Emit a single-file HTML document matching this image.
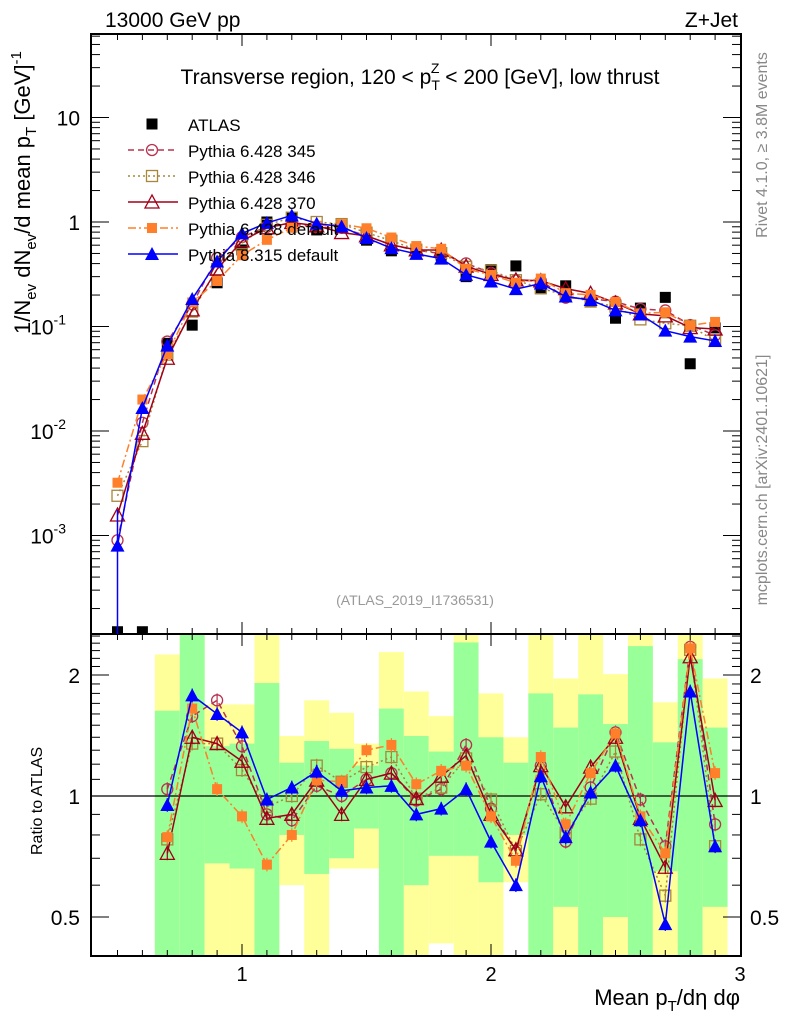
<!DOCTYPE html>
<html><head><meta charset="utf-8"><style>
html,body{margin:0;padding:0;background:#fff;}
svg{display:block;font-family:"Liberation Sans",sans-serif;}
</style></head><body>
<svg id="chart" width="786" height="1024" viewBox="0 0 786 1024" xmlns="http://www.w3.org/2000/svg">
<text x="105" y="27" font-size="21">13000 GeV pp</text>
<text x="738" y="27" font-size="21" text-anchor="end">Z+Jet</text>
<text x="420" y="84" font-size="21" text-anchor="middle">Transverse region, 120 &lt; p<tspan font-size="14" dy="6">T</tspan><tspan font-size="14" dx="-9" dy="-17">Z</tspan><tspan dy="11"> &lt; 200 [GeV], low thrust</tspan></text>
<text transform="translate(767,145) rotate(-90)" font-size="16" fill="#888" text-anchor="middle">Rivet 4.1.0, ≥ 3.8M events</text>
<text transform="translate(767,480) rotate(-90)" font-size="16" fill="#888" text-anchor="middle">mcplots.cern.ch [arXiv:2401.10621]</text>
<text x="415" y="605" font-size="14" fill="#999" text-anchor="middle">(ATLAS_2019_I1736531)</text>
<text transform="translate(30,334) rotate(-90)" font-size="22">1/N<tspan font-size="15" dy="6">ev</tspan><tspan dy="-6"> dN</tspan><tspan font-size="15" dy="6">ev</tspan><tspan dy="-6">/d mean p</tspan><tspan font-size="15" dy="6">T</tspan><tspan dy="-6"> [GeV]</tspan><tspan font-size="15" dy="-9">-1</tspan></text>
<text transform="translate(42,855) rotate(-90)" font-size="16">Ratio to ATLAS</text>
<text x="740" y="1005" font-size="22" text-anchor="end">Mean p<tspan font-size="15" dy="6">T</tspan><tspan dy="-6">/dη dφ</tspan></text>
<g id="bands"></g>
<g id="axes"></g>
<g id="series"></g>
<g id="legend"></g>
</svg>
<script>
const xCenters=[0.5,0.6,0.7,0.8,0.9,1.0,1.1,1.2,1.3,1.4,1.5,1.6,1.7,1.8,1.9,2.0,2.1,2.2,2.3,2.4,2.5,2.6,2.7,2.8,2.9];
const atlas=[1.2e-4,1.2e-4,0.069,0.103,0.262,0.54,1.0,1.1,0.84,0.88,0.67,0.53,0.55,0.48,0.30,0.35,0.38,0.23,0.245,0.176,0.12,0.15,0.19,0.044,0.097];
// main-plot values for first two bins (ATLAS off-scale there)
const low345=[9e-4,0.012];
const low346=[2.4e-3,8e-3];
const low370=[1.57e-3,9.5e-3];
const lowP6def=[3.2e-3,0.02];
const lowP8def=[8e-4,0.0166];
// ratios to ATLAS for bins 0.7..2.9
const r345=[1.04,1.58,1.73,1.33,0.90,0.87,1.06,1.0,1.10,1.14,0.975,1.04,1.34,0.93,0.725,1.19,0.77,1.05,1.44,0.98,0.75,2.35,0.85];
const r346=[0.78,1.35,1.35,1.16,0.94,1.00,1.19,1.085,1.18,1.25,0.985,1.05,1.24,0.98,0.73,1.01,0.81,0.985,1.29,0.78,0.565,2.31,0.75];
const r370=[0.72,1.40,1.35,1.22,0.88,0.90,1.095,0.90,1.10,1.14,0.985,1.12,1.26,0.90,0.735,1.19,0.94,1.18,1.40,0.88,0.665,2.22,0.975];
const rP6def=[0.79,1.65,1.04,0.89,0.675,0.80,1.095,1.085,1.30,1.34,1.07,1.155,1.19,0.89,0.69,1.25,0.85,1.14,1.43,0.89,0.72,2.33,1.14];
const rP8def=[0.95,1.78,1.60,1.44,0.98,1.05,1.15,1.03,1.05,1.06,0.90,0.93,1.04,0.77,0.60,1.12,0.79,1.02,1.19,0.87,0.48,1.82,0.75];
// ATLAS uncertainty bands (ratio), bins 0.7..2.9
const yelHi=[2.25,9,1.69,1.69,9,1.41,1.73,1.61,1.35,2.28,1.82,1.58,9,1.80,1.40,9,1.96,9,2.01,9,1.71,9,1.96];
const grnHi=[1.63,9,1.33,1.35,1.91,1.21,1.37,1.31,1.19,1.65,1.41,1.29,2.41,1.40,1.21,1.80,1.48,1.79,1.51,2.36,1.36,2.19,1.48];
const grnLo=[0.1,0.1,0.68,0.66,0.1,0.80,0.64,0.70,0.83,0.1,0.60,0.71,0.71,0.61,0.80,0.1,0.53,0.1,0.50,0.1,0.65,0.1,0.53];
const yelLo=[0.1,0.1,0.1,0.1,0.1,0.60,0.1,0.66,0.66,0.1,0.1,0.43,0.1,0.1,0.61,0.1,0.1,0.1,0.1,0.1,0.1,0.1,0.1];
const xTickLabels=["1","2","3"];

const NS="http://www.w3.org/2000/svg";
const L=91,R=741,T=34,M=634,B=956;
const X=v=>242+(v-1)*249;
const YM=v=>222-104.5*Math.log10(v);
const YR=r=>796-121*Math.log2(r);
function mk(parent,tag,attrs){const e=document.createElementNS(NS,tag);for(const k in attrs)e.setAttribute(k,attrs[k]);parent.appendChild(e);return e;}
const svg=document.getElementById('chart');
const defs=mk(svg,'defs',{});
const cp1=mk(defs,'clipPath',{id:'cmain'});mk(cp1,'rect',{x:L,y:T,width:R-L,height:M-T});
const cp2=mk(defs,'clipPath',{id:'cratio'});mk(cp2,'rect',{x:L,y:M,width:R-L,height:B-M});

// bands
const gb=document.getElementById('bands');
gb.setAttribute('clip-path','url(#cratio)');
const rc=xCenters.slice(2);
rc.forEach((c,i)=>{
  const x0=X(c-0.05),w=X(c+0.05)-x0;
  const clampY=r=>Math.max(M-5,Math.min(B+5,YR(r)));
  let e=mk(gb,'rect',{x:x0,y:clampY(yelHi[i]),width:w,height:clampY(yelLo[i])-clampY(yelHi[i]),fill:'#ffff99'});
  
  
  e=mk(gb,'rect',{x:x0,y:clampY(grnHi[i]),width:w,height:clampY(grnLo[i])-clampY(grnHi[i]),fill:'#99ff99'});
  
  
});

// axes
const ga=document.getElementById('axes');
mk(ga,'rect',{x:L,y:T,width:R-L,height:B-T,fill:'none',stroke:'#000','stroke-width':2});
mk(ga,'line',{x1:L,x2:R,y1:M,y2:M,stroke:'#000','stroke-width':2});
mk(ga,'line',{x1:L,x2:R,y1:YR(1),y2:YR(1),stroke:'#000','stroke-width':1.3});
for(let k=5;k<=29;k++){
  const v=k/10,x=X(v),maj=(k%10===0),len=maj?12:6;
  [[T,1],[M,-1],[M,1],[B,-1]].forEach(([y,s])=>mk(ga,'line',{x1:x,x2:x,y1:y,y2:y+s*len,stroke:'#000','stroke-width':1}));
}
xTickLabels.forEach((t,i)=>{const e=mk(ga,'text',{x:X(i+1),y:981,'font-size':20,'text-anchor':'middle'});e.textContent=t;

});
// main y ticks
for(let d=-4;d<=1;d++){for(let m=1;m<=9;m++){const v=m*Math.pow(10,d),y=YM(v);if(y<T||y>M)continue;const len=m===1?18:9;
mk(ga,'line',{x1:L,x2:L+len,y1:y,y2:y,stroke:'#000'});mk(ga,'line',{x1:R,x2:R-len,y1:y,y2:y,stroke:'#000'});}}
[[1,'10',null],[0,'1',null],[-1,'10','-1'],[-2,'10','-2'],[-3,'10','-3']].forEach(([d,b,s])=>{
  const e=mk(ga,'text',{x:s?66:80,y:YM(Math.pow(10,d))+8,'font-size':21,'text-anchor':'end'});e.textContent=b;
  
  
  if(s){const t=mk(e,'tspan',{'font-size':14,dy:-10});t.textContent=s;}
});
// ratio ticks
for(let k=4;k<=25;k++){const r=k/10;const y=YR(r);if(y<M||y>B)continue;const maj=(k===5||k===10||k===20);const len=maj?18:9;
mk(ga,'line',{x1:L,x2:L+len,y1:y,y2:y,stroke:'#000'});mk(ga,'line',{x1:R,x2:R-len,y1:y,y2:y,stroke:'#000'});}
[[2,'2'],[1,'1'],[0.5,'0.5']].forEach(([r,t])=>{
  let e=mk(ga,'text',{x:80,y:YR(r)+8,'font-size':21,'text-anchor':'end'});e.textContent=t;
  
  
  e=mk(ga,'text',{x:750,y:YR(r)+8,'font-size':21});e.textContent=t;
  
  
});

// markers
function marker(g,type,x,y,col){
  const s=5.5;
  if(type==='sq') return mk(g,'rect',{x:x-s,y:y-s,width:2*s,height:2*s,fill:col});
  if(type==='circ') return mk(g,'circle',{cx:x,cy:y,r:s,fill:'none',stroke:col,'stroke-width':1.3});
  if(type==='osq') return mk(g,'rect',{x:x-s,y:y-s,width:2*s,height:2*s,fill:'none',stroke:col,'stroke-width':1.3});
  if(type==='otri') return mk(g,'polygon',{points:`${x},${y-7} ${x-7},${y+6} ${x+7},${y+6}`,fill:'none',stroke:col,'stroke-width':1.3});
  if(type==='fsq') return mk(g,'rect',{x:x-5,y:y-5,width:10,height:10,fill:col});
  if(type==='tri') return mk(g,'polygon',{points:`${x},${y-7} ${x-7},${y+6} ${x+7},${y+6}`,fill:col});
}
const series=[
 {name:'Pythia 6.428 345',low:low345,r:r345,col:'#b8324f',dash:'6,4',m:'circ'},
 {name:'Pythia 6.428 346',low:low346,r:r346,col:'#a8863a',dash:'2,3',m:'osq'},
 {name:'Pythia 6.428 370',low:low370,r:r370,col:'#a00018',dash:'',m:'otri'},
 {name:'Pythia 6.428 default',low:lowP6def,r:rP6def,col:'#ff7f2a',dash:'8,3,2,3',m:'fsq'},
 {name:'Pythia 8.315 default',low:lowP8def,r:rP8def,col:'#0000ff',dash:'',m:'tri'}
];
const gs=document.getElementById('series');
const gm=mk(gs,'g',{'clip-path':'url(#cmain)'});
const gr=mk(gs,'g',{'clip-path':'url(#cratio)'});
// ATLAS data
atlas.forEach((v,i)=>{const e=marker(gm,'sq',X(xCenters[i]),YM(v),'#000');

});
series.forEach(s=>{
  const vals=s.low.concat(s.r.map((r,i)=>r*atlas[i+2]));
  const pm=vals.map((v,i)=>`${X(xCenters[i])},${YM(v)}`).join(' ');
  let e=mk(gm,'polyline',{points:pm,fill:'none',stroke:s.col,'stroke-width':1.5,'stroke-dasharray':s.dash});
  
  
  vals.forEach((v,i)=>{const m=marker(gm,s.m,X(xCenters[i]),YM(v),s.col);
  
  });
  const pr=s.r.map((r,i)=>`${X(rc[i])},${YR(r)}`).join(' ');
  e=mk(gr,'polyline',{points:pr,fill:'none',stroke:s.col,'stroke-width':1.5,'stroke-dasharray':s.dash});
  
  
  s.r.forEach((r,i)=>{const x=X(rc[i]),y=YR(r);
    mk(gr,'line',{x1:x,x2:x,y1:YR(r*1.04),y2:YR(r/1.04),stroke:s.col,'stroke-width':1.2});
    const m=marker(gr,s.m,x,y,s.col);
    
    });
});
// blue error bar at first bin
mk(gm,'line',{x1:X(0.5),x2:X(0.5),y1:YM(lowP8def[0]*2.2),y2:M,stroke:'#0000ff','stroke-width':1.5});

// legend
const gl=document.getElementById('legend');
const ly=[124,150,176,202,228,254];
let e=marker(gl,'sq',152,ly[0],'#000');
e=mk(gl,'text',{x:188,y:ly[0]+7,'font-size':17});e.textContent='ATLAS';


series.forEach((s,i)=>{const y=ly[i+1];
  mk(gl,'line',{x1:128,x2:178,y1:y,y2:y,stroke:s.col,'stroke-width':1.5,'stroke-dasharray':s.dash});
  marker(gl,s.m,152,y,s.col);
  const t=mk(gl,'text',{x:188,y:y+7,'font-size':17});t.textContent=s.name;
  
  
});
</script>
</body></html>
